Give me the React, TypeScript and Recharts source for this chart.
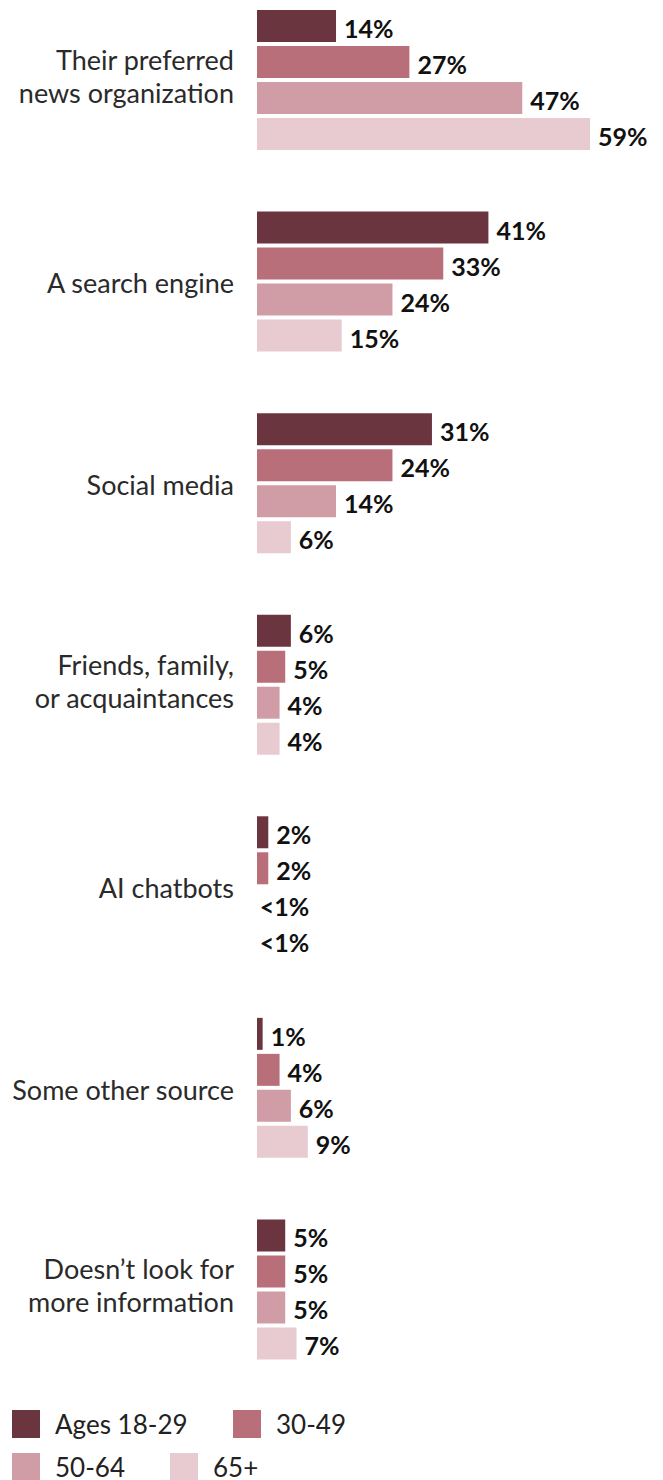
import { BarChart, Bar, XAxis, YAxis, LabelList, Rectangle } from 'recharts'

const categories = [
  'Their preferred\nnews organization',
  'A search engine',
  'Social media',
  'Friends, family,\nor acquaintances',
  'AI chatbots',
  'Some other source',
  'Doesn\u2019t look for\nmore information',
]
// values below 1 are shown as "<1%" with no visible bar
const ages1829 = [14, 41, 31, 6, 2, 1, 5]
const ages3049 = [27, 33, 24, 5, 2, 4, 5]
const ages5064 = [47, 24, 14, 4, 0.3, 6, 5]
const ages65 = [59, 15, 6, 4, 0.3, 9, 7]

const seriesNames = ['Ages 18-29', '30-49', '50-64', '65+']
const colors = ['#6B3540', '#B86F7A', '#D09CA5', '#E8CAD1']
const keys = ['a', 'b', 'c', 'd']

const data = categories.map((name, i) => ({
  name,
  a: ages1829[i],
  b: ages3049[i],
  c: ages5064[i],
  d: ages65[i],
}))

const FONT = 'Lato, "Open Sans", sans-serif'

const CategoryTick = (props: any) => {
  const { x, y, payload } = props
  const lines = String(payload.value).split('\n')
  const lh = 33
  const start = lines.length > 1 ? y - 21 : y + 1
  return (
    <text x={x} y={start} textAnchor="end" fill="#2a2a2a" fontSize={27} fontFamily={FONT} dominantBaseline="central">
      {lines.map((l, i) => (
        <tspan key={i} x={x} y={start + i * lh}>{l}</tspan>
      ))}
    </text>
  )
}

const BarShape = (props: any) => {
  if (props.value < 1) return <g />
  return <Rectangle {...props} />
}

const ValueLabel = (props: any) => {
  const { x, y, width, height, value } = props
  const small = value < 1
  return (
    <text
      x={x + width + (small ? 1 : 8)}
      y={y + height / 2 + 2}
      fontSize={25}
      fontWeight={700}
      fontFamily={FONT}
      fill="#111"
      dominantBaseline="central"
    >
      {small ? '<1%' : `${value}%`}
    </text>
  )
}

const legendRows = [
  [{ i: 0, w: 221 }, { i: 1, w: 200 }],
  [{ i: 2, w: 158 }, { i: 3, w: 200 }],
]

export default function App() {
  return (
    <div style={{ position: 'absolute', left: 0, top: 0, width: 663, height: 1480, overflow: 'hidden', background: '#fff' }}>
      <div style={{ position: 'absolute', left: 0, top: -21 }}>
        <BarChart
          width={663}
          height={1411}
          data={data}
          layout="vertical"
          margin={{ top: 0, right: 73, bottom: 0, left: 0 }}
          barSize={32}
          barGap={4}
        >
          <XAxis type="number" domain={[0, 59]} hide />
          <YAxis
            type="category"
            dataKey="name"
            width={257}
            axisLine={false}
            tickLine={false}
            tickSize={0}
            tickMargin={23}
            interval={0}
            tick={<CategoryTick />}
          />
          {keys.map((k, i) => (
            <Bar key={k} dataKey={k} fill={colors[i]} shape={<BarShape />} isAnimationActive={false}>
              <LabelList dataKey={k} content={<ValueLabel />} />
            </Bar>
          ))}
        </BarChart>
      </div>
      <div style={{ position: 'absolute', left: 12, top: 1410, fontFamily: FONT, fontSize: 26, color: '#222' }}>
        {legendRows.map((row, r) => (
          <div key={r} style={{ display: 'flex', height: 28, marginBottom: 15 }}>
            {row.map(({ i, w }) => (
              <div key={i} style={{ display: 'flex', alignItems: 'center', width: w }}>
                <div style={{ width: 28, height: 28, background: colors[i], marginRight: 15, flexShrink: 0 }} />
                <span style={{ lineHeight: '28px', whiteSpace: 'nowrap' }}>{seriesNames[i]}</span>
              </div>
            ))}
          </div>
        ))}
      </div>
    </div>
  )
}
